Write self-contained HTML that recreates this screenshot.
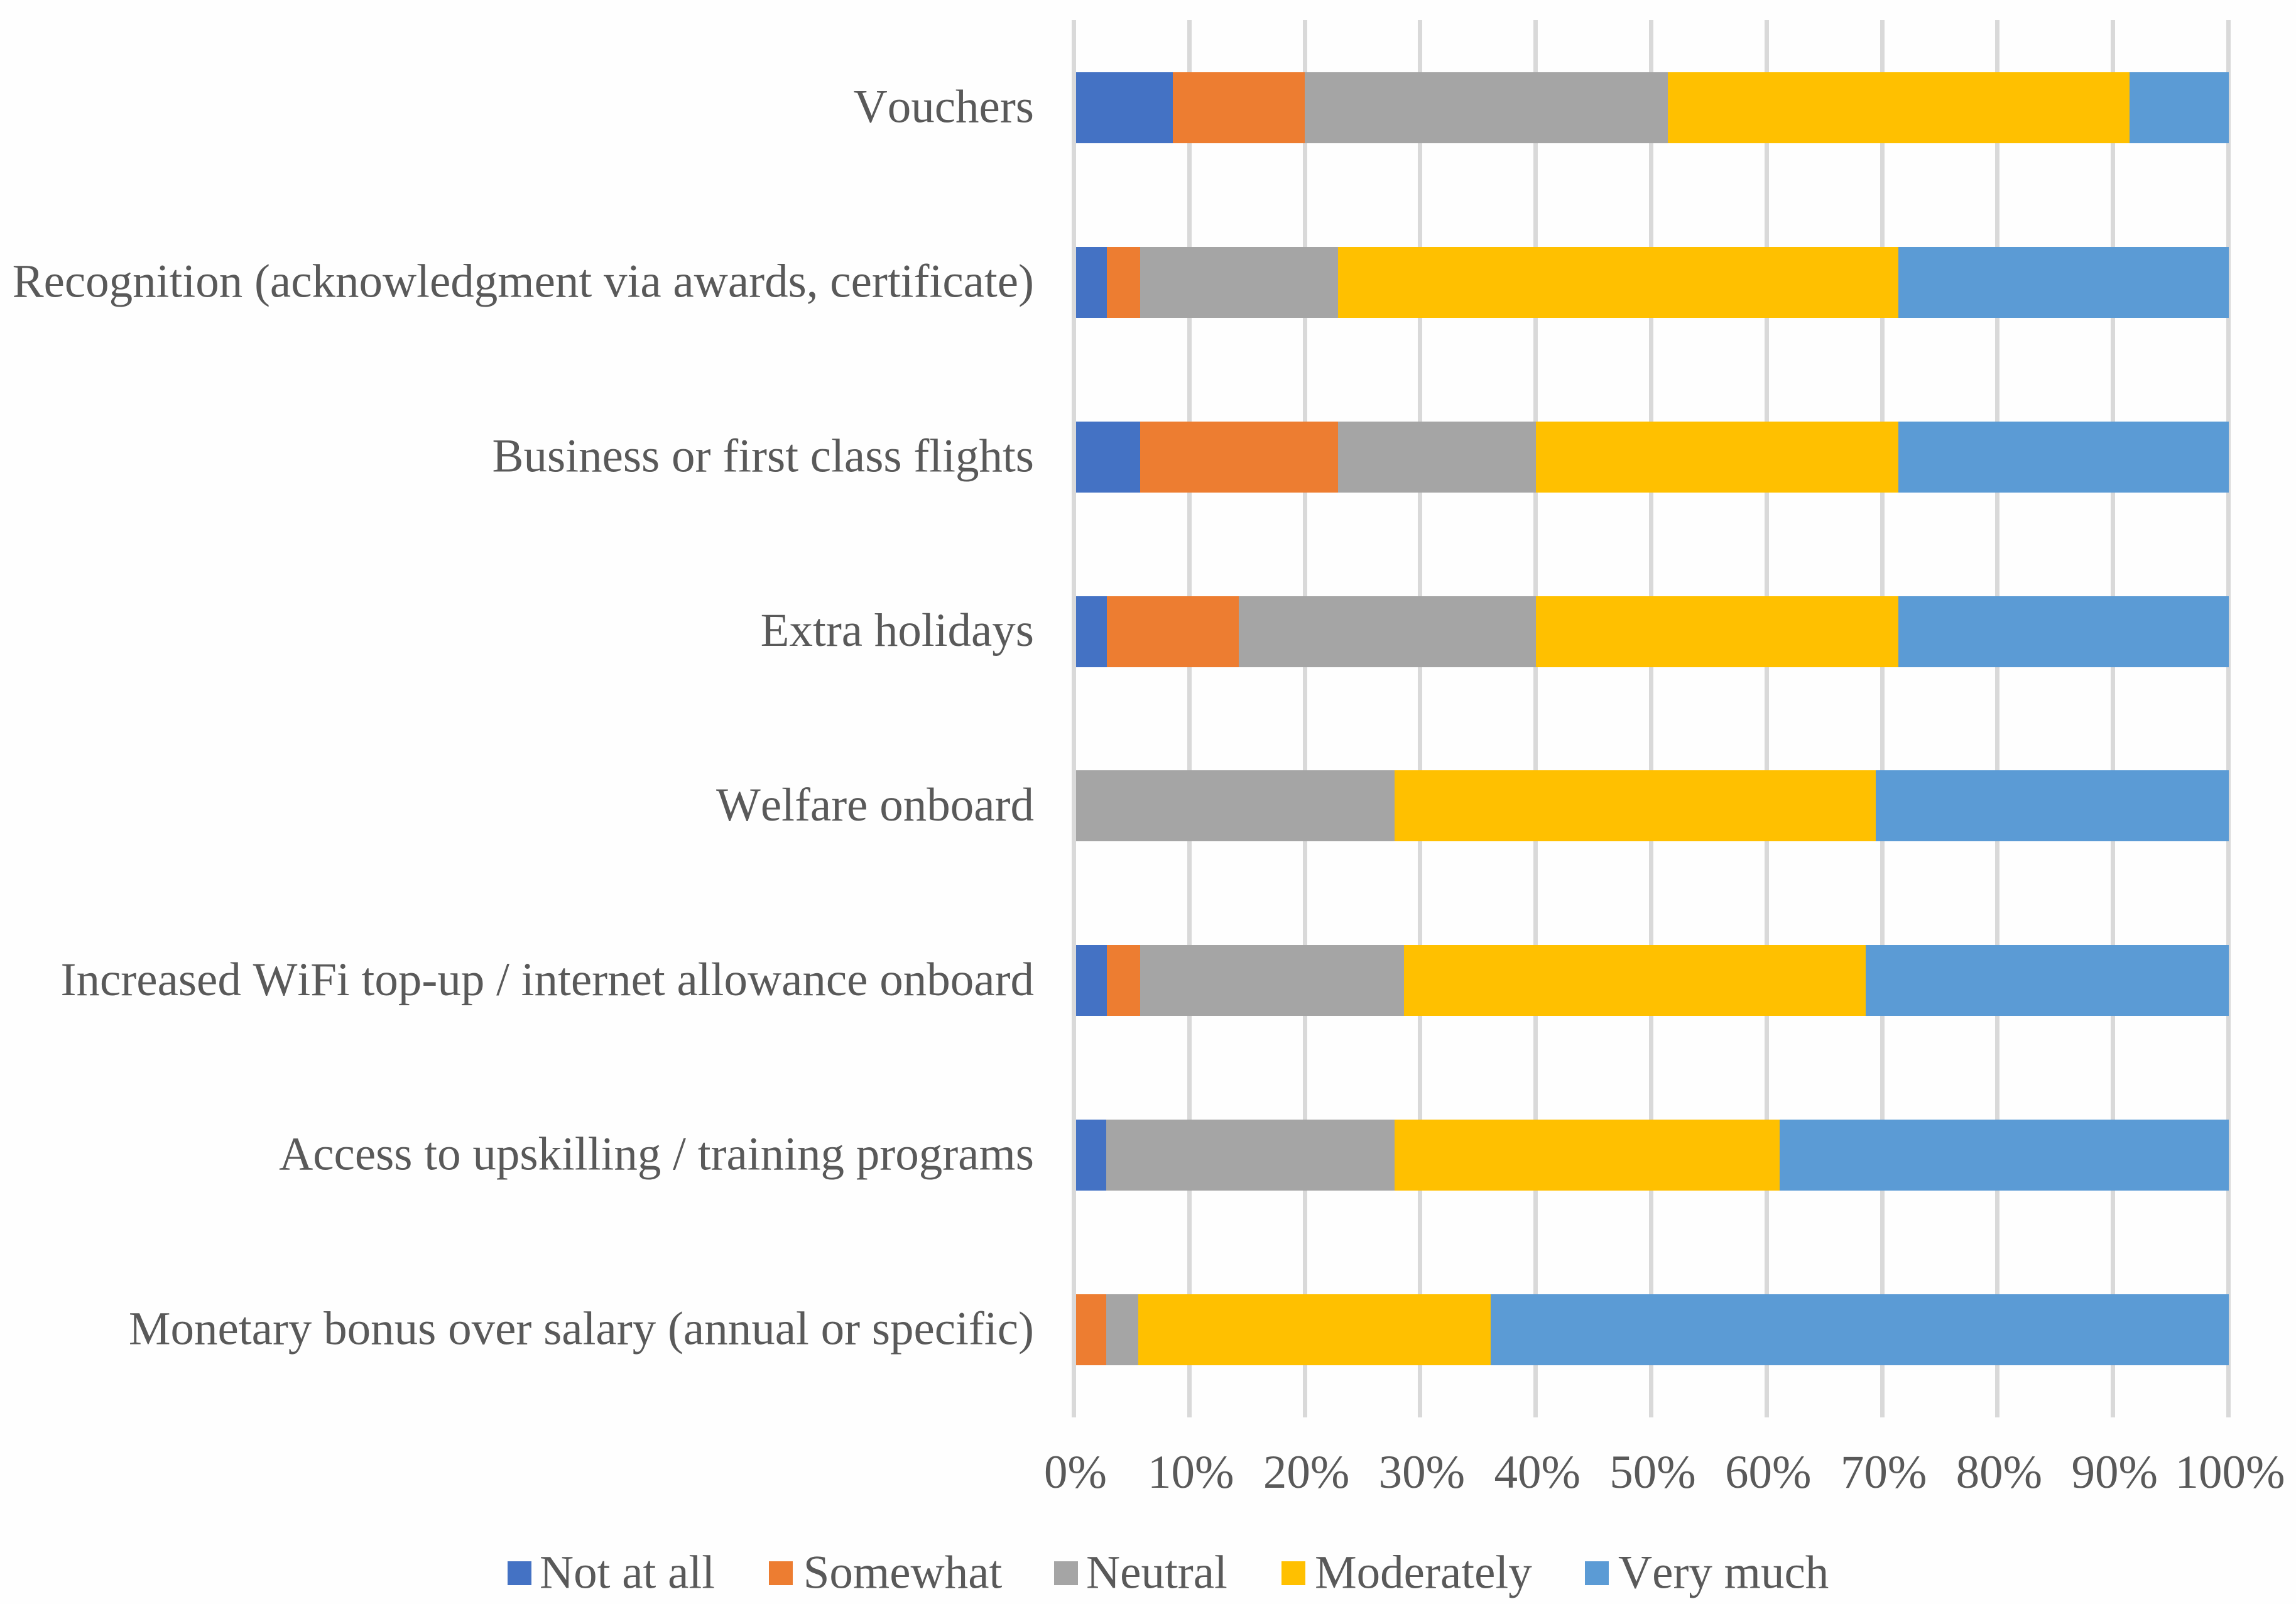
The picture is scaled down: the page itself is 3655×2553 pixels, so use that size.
<!DOCTYPE html>
<html lang="en">
<head>
<meta charset="utf-8">
<title>Stacked bar chart of incentive preferences</title>
<style>
  html, body { margin: 0; padding: 0; background: #fefefe; }
  svg { display: block; }
  text { font-family: "Liberation Serif", "Times New Roman", serif; fill: #595959; font-kerning: none; font-variant-ligatures: none; }
</style>
</head>
<body>
<svg id="chart" xmlns="http://www.w3.org/2000/svg" width="3655" height="2553" viewBox="0 0 3655 2553"></svg>
<script>
const categories = [
  "Vouchers",
  "Recognition (acknowledgment via awards, certificate)",
  "Business or first class flights",
  "Extra holidays",
  "Welfare onboard",
  "Increased WiFi top-up / internet allowance onboard",
  "Access to upskilling / training programs",
  "Monetary bonus over salary (annual or specific)"
];
const seriesNames = ["Not at all", "Somewhat", "Neutral", "Moderately", "Very much"];
const seriesColors = ["#4472C4", "#ED7D31", "#A5A5A5", "#FFC000", "#5B9BD5"];
const notAtAll   = [3, 1, 2, 1, 0, 1, 1, 0];
const somewhat   = [4, 1, 6, 4, 0, 1, 0, 1];
const neutral    = [11, 6, 6, 9, 10, 8, 9, 1];
const moderately = [14, 17, 11, 11, 15, 14, 12, 11];
const veryMuch   = [3, 10, 10, 10, 11, 11, 14, 23];
const seriesValues = [notAtAll, somewhat, neutral, moderately, veryMuch];
const tickValues = [0, 10, 20, 30, 40, 50, 60, 70, 80, 90, 100];
const tickLabels = ["0%", "10%", "20%", "30%", "40%", "50%", "60%", "70%", "80%", "90%", "100%"];

const svgNS = "http://www.w3.org/2000/svg";
const svg = document.getElementById("chart");
const plotLeft = 1709.5, plotRight = 3547.5, plotTop = 32, plotBottom = 2256;
const bandStart = 32.6;
const bandHeight = 277.86;
const barHeight = 113;
const gridWidth = 7;

function xScale(pct) { return plotLeft + (plotRight - plotLeft) * pct / 100; }
function bandCenter(i) { return bandStart + bandHeight * (i + 0.5); }
function make(tag, attrs, text) {
  const el = document.createElementNS(svgNS, tag);
  for (const k in attrs) el.setAttribute(k, attrs[k]);
  if (text !== undefined) el.textContent = text;
  svg.appendChild(el);
  return el;
}

const bg = make("rect", { x: 0, y: 0, width: 3655, height: 2553, fill: "#fefefe" });



tickValues.forEach(function (v, i) {
  const gx = Math.floor(xScale(v)) + 0.5;
  const grid = make("line", { x1: gx, x2: gx, y1: plotTop, y2: plotBottom, stroke: "#D9D9D9", "stroke-width": gridWidth });
  
  
  const tick = make("text", { x: xScale(v) + 2.5, y: 2368, "font-size": 75, "text-anchor": "middle" }, tickLabels[i]);
  
  
});

categories.forEach(function (name, i) {
  const label = make("text", { x: 1646, y: bandCenter(i) + 23, "font-size": 75, "text-anchor": "end" }, name);
  
  
  let total = 0;
  seriesValues.forEach(function (s) { total += s[i]; });
  let cumulative = 0;
  seriesValues.forEach(function (s, j) {
    const start = cumulative / total * 100;
    cumulative += s[i];
    const end = cumulative / total * 100;
    if (s[i] <= 0) return;
    const x0 = Math.round(xScale(start));
    const x1 = Math.round(xScale(end));
    const bar = make("rect", {
      x: x0,
      y: Math.round(bandCenter(i) - barHeight / 2),
      width: x1 - x0,
      height: barHeight,
      fill: seriesColors[j]
    });
    
    
  });
});

const zeroX = Math.floor(xScale(0)) + 0.5;
const zeroAxis = make("line", { x1: zeroX, x2: zeroX, y1: plotTop, y2: plotBottom, stroke: "#D9D9D9", "stroke-width": gridWidth });



const legendSwatchX = [808, 1224, 1678, 2040, 2523];
const legendTextX = [859, 1278.7, 1729, 2093, 2576];
seriesNames.forEach(function (name, j) {
  const swatch = make("rect", { x: legendSwatchX[j], y: 2485, width: 38, height: 38, fill: seriesColors[j] });
  
  
  const text = make("text", { x: legendTextX[j], y: 2527.5, "font-size": 75 }, name);
  
  
});
</script>
</body>
</html>
